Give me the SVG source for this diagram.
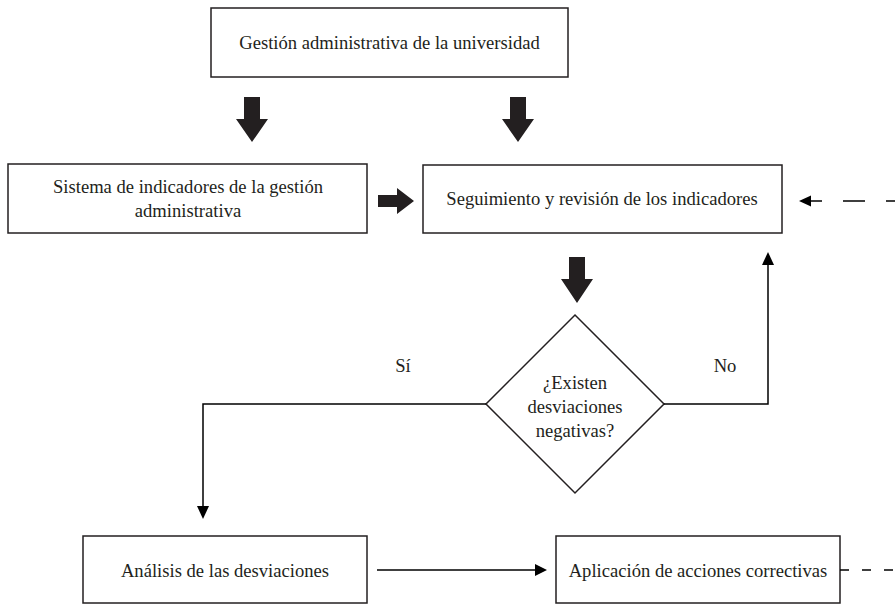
<svg xmlns="http://www.w3.org/2000/svg" width="895" height="605" viewBox="0 0 895 605">
<style>
.box{fill:#fff;stroke:#231f20;stroke-width:1.5}
.t{font-family:'Liberation Serif','Times New Roman','DejaVu Serif',serif;font-size:18.6px;fill:#231f20;text-anchor:middle}
.ln{fill:none;stroke:#000;stroke-width:1.5}
.dash{fill:none;stroke:#000;stroke-width:1.5;stroke-dasharray:22 21}
.fat{fill:#231f20}
.hd{fill:#000}
</style>
<rect width="895" height="605" fill="#fff"/>
<g id="n1"><rect class="box" x="211" y="8" width="357" height="69"/><text class="t" x="389.5" y="49">Gestión administrativa de la universidad</text></g>
<g id="n2"><rect class="box" x="8" y="164" width="359" height="69"/><text class="t" x="188" y="193">Sistema de indicadores de la gestión</text><text class="t" x="188" y="217">administrativa</text></g>
<g id="n3"><rect class="box" x="423" y="165" width="359" height="68"/><text class="t" x="602" y="205">Seguimiento y revisión de los indicadores</text></g>
<g id="n4"><polygon class="box" points="575,315 664,404 575,493 486,404"/><text class="t" x="575" y="389">¿Existen</text><text class="t" x="575" y="413">desviaciones</text><text class="t" x="575" y="437">negativas?</text></g>
<g id="n5"><rect class="box" x="83" y="536" width="284" height="67"/><text class="t" x="225" y="577">Análisis de las desviaciones</text></g>
<g id="n6"><rect class="box" x="556" y="536" width="284" height="67"/><text class="t" x="698" y="577">Aplicación de acciones correctivas</text></g>
<g id="connectors">
<polygon class="fat" points="244,97 260,97 260,119 268,119 252,142 236,119 244,119"/>
<polygon class="fat" points="510,97 526,97 526,119 534,119 518,142 502,119 510,119"/>
<polygon class="fat" points="378,195 397,195 397,188 414,201 397,214 397,207 378,207"/>
<polygon class="fat" points="569,257 585,257 585,279 593,279 577,303 561,279 569,279"/>
<path class="ln" d="M486,404 H203 V508"/>
<polygon class="hd" points="197,506 209,506 203,519"/>
<path class="ln" d="M664,404 H768 V264"/>
<polygon class="hd" points="762,265 774,265 768,252"/>
<path class="ln" d="M377,570 H536"/>
<polygon class="hd" points="535,564 535,576 547,570"/>
<path class="ln" d="M810,201 H822"/>
<polygon class="hd" points="799,201 811,195.5 811,206.5"/>
<path class="dash" d="M843,201 H895"/>
<path class="ln" d="M840,570 H895" stroke-dasharray="9 13"/>
<text class="t" x="403" y="372">Sí</text>
<text class="t" x="725" y="372">No</text>
</g>
</svg>
